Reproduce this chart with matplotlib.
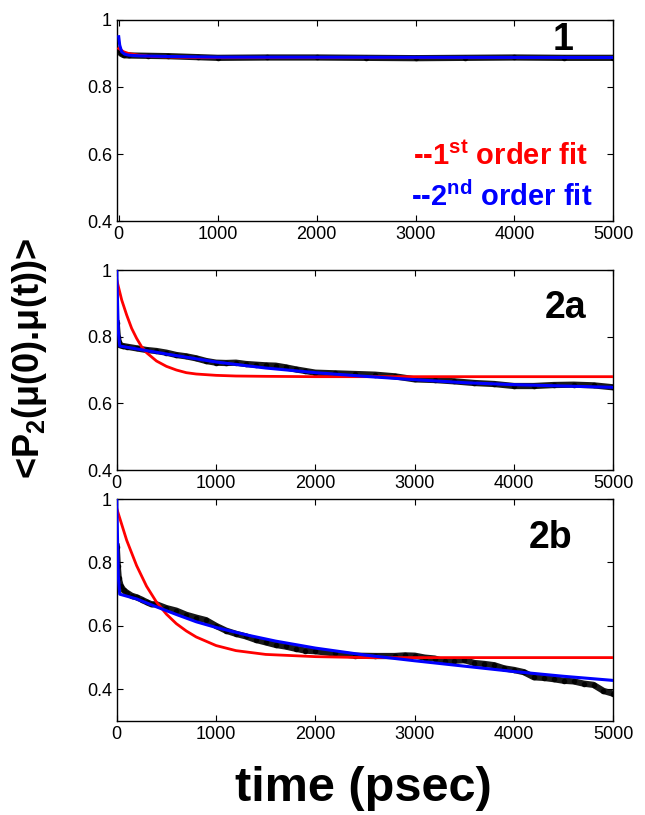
import matplotlib
matplotlib.use("Agg")
import matplotlib.pyplot as plt

# panel 1
t1_data = [0, 20, 50, 100, 300, 500, 800, 1000, 1500, 2000, 2500, 3000, 3500, 4000, 4500, 5000]
p1_data = [0.91, 0.90, 0.895, 0.894, 0.893, 0.892, 0.889, 0.887, 0.888, 0.888, 0.887, 0.886, 0.887, 0.888, 0.887, 0.887]
t1_red = [0, 50, 100, 200, 300, 450, 600, 800, 1000, 5000]
p1_red = [0.915, 0.905, 0.900, 0.895, 0.892, 0.890, 0.889, 0.888, 0.888, 0.888]
t1_blue = [0, 10, 30, 60, 100, 200, 500, 1000, 5000]
p1_blue = [0.95, 0.925, 0.905, 0.898, 0.895, 0.893, 0.891, 0.889, 0.888]

# panel 2a
t2_data = [0, 10, 20, 30, 60, 100, 200, 300, 400, 500, 600, 700, 800, 900, 1000, 1100, 1200,
           1300, 1400, 1500, 1600, 1700, 1800, 1900, 2000, 2200, 2400, 2600, 2800, 3000, 3200,
           3400, 3600, 3800, 4000, 4200, 4400, 4600, 4800, 5000]
p2_data = [0.84, 0.80, 0.785, 0.775, 0.772, 0.770, 0.765, 0.760, 0.757, 0.752, 0.745, 0.741, 0.735,
           0.727, 0.722, 0.721, 0.722, 0.718, 0.716, 0.714, 0.713, 0.708, 0.702, 0.697, 0.692,
           0.690, 0.688, 0.686, 0.681, 0.672, 0.670, 0.666, 0.661, 0.658, 0.652, 0.652, 0.655,
           0.656, 0.654, 0.648]
t2_red = [0, 50, 100, 150, 200, 250, 300, 400, 500, 600, 700, 800, 1000, 1200, 1500, 2000, 5000]
p2_red = [0.97, 0.91, 0.865, 0.825, 0.795, 0.77, 0.752, 0.727, 0.711, 0.700, 0.692, 0.688, 0.684,
          0.682, 0.681, 0.680, 0.680]
t2_blue = [0, 15, 30, 500, 1000, 1500, 2000, 2500, 3000, 3500, 4000, 4500, 5000]
p2_blue = [1.0, 0.82, 0.772, 0.748, 0.724, 0.706, 0.692, 0.681, 0.671, 0.662, 0.656, 0.652, 0.648]

# panel 2b
t3_data = [0, 10, 20, 40, 70, 100, 150, 200, 250, 300, 350, 400, 500, 600, 700, 800, 900, 1000,
           1100, 1200, 1300, 1400, 1500, 1600, 1700, 1800, 1900, 2000, 2200, 2400, 2600, 2800,
           2900, 3000, 3100, 3200, 3300, 3400, 3500, 3600, 3700, 3800, 3900, 4000, 4100, 4200,
           4300, 4400, 4500, 4600, 4700, 4800, 4900, 5000]
p3_data = [0.85, 0.79, 0.75, 0.725, 0.712, 0.705, 0.695, 0.690, 0.683, 0.675, 0.668, 0.668, 0.656,
           0.648, 0.635, 0.626, 0.618, 0.600, 0.585, 0.575, 0.567, 0.556, 0.548, 0.540, 0.535,
           0.528, 0.522, 0.520, 0.513, 0.506, 0.505, 0.505, 0.507, 0.506, 0.500, 0.497, 0.488,
           0.490, 0.492, 0.483, 0.480, 0.476, 0.466, 0.461, 0.454, 0.438, 0.436, 0.432, 0.427,
           0.425, 0.418, 0.414, 0.395, 0.386]
t3_red = [0, 100, 200, 300, 400, 500, 600, 700, 800, 1000, 1200, 1500, 2000, 2500, 5000]
p3_red = [0.97, 0.87, 0.79, 0.725, 0.675, 0.637, 0.607, 0.584, 0.565, 0.538, 0.522, 0.510, 0.503,
          0.500, 0.500]
t3_blue = [0, 15, 30, 200, 400, 600, 800, 1000, 1300, 1600, 2000, 2500, 3000, 3500, 4000, 4500, 5000]
p3_blue = [1.0, 0.76, 0.700, 0.685, 0.660, 0.636, 0.613, 0.595, 0.572, 0.552, 0.530, 0.508, 0.490,
           0.473, 0.456, 0.441, 0.428]

x_ticks = [0, 1000, 2000, 3000, 4000, 5000]
y_ticks = [0.4, 0.6, 0.8, 1.0]
y_ticklabels = ["0.4", "0.6", "0.8", "1"]

panels = [
    ("1", t1_data, p1_data, t1_red, p1_red, t1_blue, p1_blue, (0.4, 1.0)),
    ("2a", t2_data, p2_data, t2_red, p2_red, t2_blue, p2_blue, (0.4, 1.0)),
    ("2b", t3_data, p3_data, t3_red, p3_red, t3_blue, p3_blue, (0.3, 1.0)),
]
positions = [
    [0.181, 0.7288, 0.770, 0.2467],
    [0.181, 0.4233, 0.770, 0.2454],
    [0.181, 0.1153, 0.770, 0.2724],
]
# (x right edge, baseline) of the panel tags, in axes fraction
tag_pos = [(0.919, 0.85), (0.945, 0.76), (0.917, 0.78)]

plt.rcParams['font.family'] = ['Liberation Sans', 'DejaVu Sans']
plt.rcParams['mathtext.fontset'] = 'custom'
plt.rcParams['mathtext.rm'] = 'Liberation Sans'
plt.rcParams['mathtext.bf'] = 'Liberation Sans:bold'

fig = plt.figure(figsize=(6.45, 8.15), dpi=100)

for (name, td, pd_, tr, pr, tb, pb, ylim), pos, tp in zip(panels, positions, tag_pos):
    ax = fig.add_axes(pos)
    ax.plot(td, pd_, color='black', lw=4.5, marker='o', ms=3, alpha=0.9, zorder=2)
    ax.plot(tr, pr, color='red', lw=2, zorder=3)
    ax.plot(tb, pb, color='blue', lw=2.2, zorder=4)
    ax.set_xlim(-20 if name == "1" else 0, 5000)
    ax.set_ylim(*ylim)
    ax.set_xticks(x_ticks)
    ax.set_yticks(y_ticks)
    ax.set_yticklabels(y_ticklabels)
    ax.tick_params(direction='in', top=True, right=True, labelsize=13, length=4, width=0.8)
    for s in ax.spines.values():
        s.set_linewidth(1.0)
    ax.text(tp[0], tp[1], name, transform=ax.transAxes,
            ha='right', va='baseline', fontsize=27, fontweight='bold')
    if name == "1":
        ax.text(0.948, 0.28, "--1$^{\\mathbf{st}}$ order fit", transform=ax.transAxes,
                ha='right', va='baseline', fontsize=21, fontweight='bold', color='red')
        ax.text(0.958, 0.075, "--2$^{\\mathbf{nd}}$ order fit", transform=ax.transAxes,
                ha='right', va='baseline', fontsize=21, fontweight='bold', color='blue')

fig.text(0.046, 0.56, "<P$_{\\mathbf{2}}$(\u03bc(0).\u03bc(t))>", rotation=90, ha='center',
         va='center', fontsize=26, fontweight='bold')
fig.text(0.563, 0.017, "time (psec)", ha='center', va='baseline', fontsize=35,
         fontweight='bold')

fig.savefig("out.png", dpi=100)
